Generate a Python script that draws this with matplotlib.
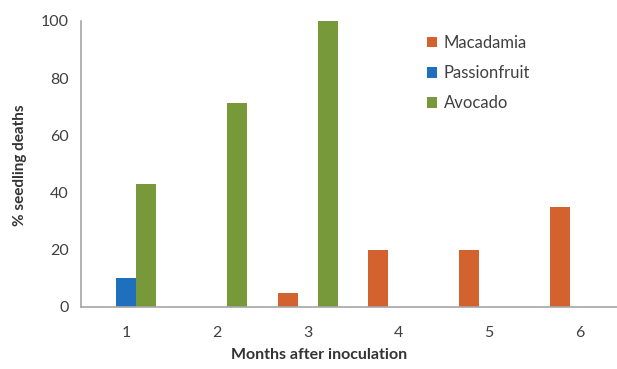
import matplotlib.pyplot as plt
import numpy as np

plt.rcParams['font.family'] = ['Lato', 'DejaVu Sans']

# Monthly seedling deaths (%) per host
months = [1, 2, 3, 4, 5, 6]
macadamia = [0, 0, 5, 20, 20, 35]
passionfruit = [10, 0, 0, 0, 0, 0]
avocado = [42.9, 71.4, 100, 0, 0, 0]

series = [('Macadamia', macadamia, '#d4622e'),
          ('Passionfruit', passionfruit, '#1f6fbf'),
          ('Avocado', avocado, '#78993a')]

fig = plt.figure(figsize=(6.17, 3.69), dpi=100)
# plot area runs a little past the right edge of the figure
ax = fig.add_axes([81 / 617, 1 - 307 / 369, 544 / 617, 286 / 369])

x = np.arange(len(months))
width = 0.22
for i, (name, vals, color) in enumerate(series):
    ax.bar(x + (i - 1) * width, vals, width, color=color, label=name)

ax.set_xlim(-0.5, len(months) - 0.5)
ax.set_ylim(0, 100)
ax.set_yticks(range(0, 101, 20))
ax.set_xticks(x)
ax.set_xticklabels([str(m) for m in months])
ax.tick_params(length=0, labelsize=11.5, colors='#404040', pad=9)
ax.tick_params(axis='x', pad=14)

for side in ['top', 'right']:
    ax.spines[side].set_visible(False)
for side in ['left', 'bottom']:
    ax.spines[side].set_color('#a6a6a6')
    ax.spines[side].set_linewidth(1.2)

fig.text(20 / 617, 1 - 165 / 369, '% seedling deaths', rotation=90,
         ha='center', va='center', fontsize=11, fontweight='bold', color='#333333')
fig.text(319 / 617, 1 - 355 / 369, 'Months after inoculation',
         ha='center', va='center', fontsize=11.5, fontweight='bold', color='#333333')

fig.legend(loc='upper left', bbox_to_anchor=(412 / 617, 1 - 20 / 369),
           frameon=False, fontsize=12, handlelength=0.6, handleheight=0.6,
           handletextpad=0.4, labelspacing=0.85, labelcolor='#404040')

fig.savefig('out.png', dpi=100)
